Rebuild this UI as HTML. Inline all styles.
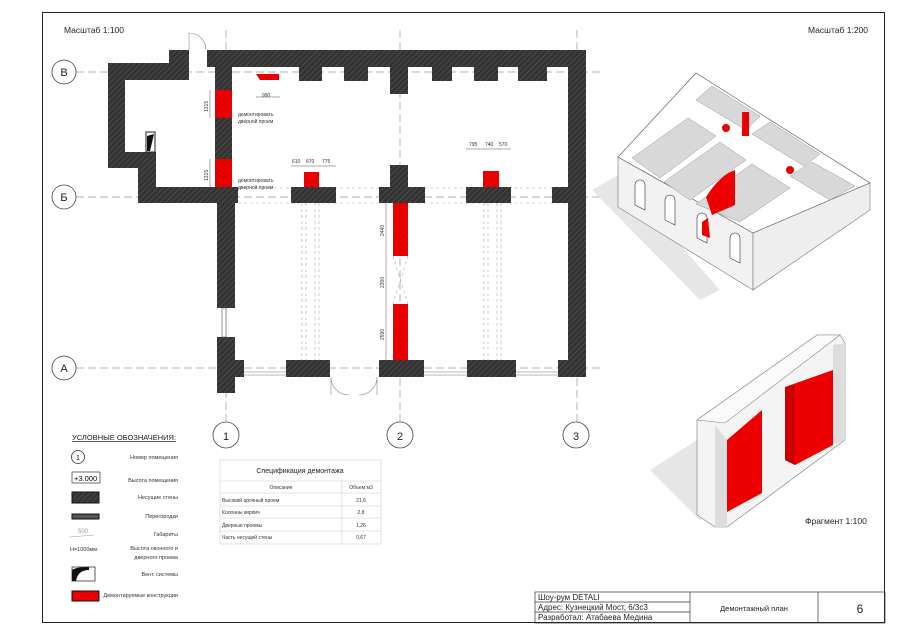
<!DOCTYPE html>
<html><head><meta charset="utf-8"><style>
html,body{margin:0;padding:0;background:#fff;}
svg{display:block;font-family:"Liberation Sans","DejaVu Sans",sans-serif;}
</style></head><body>
<svg width="900" height="635" viewBox="0 0 900 635" xmlns="http://www.w3.org/2000/svg">
<defs>
<pattern id="h" width="4" height="4" patternUnits="userSpaceOnUse" patternTransform="rotate(45)">
<rect width="4" height="4" fill="#333"/><line x1="0" y1="0" x2="0" y2="4" stroke="#6a6a6a" stroke-width="0.8"/></pattern>
<pattern id="r" width="4" height="4" patternUnits="userSpaceOnUse" patternTransform="rotate(45)">
<rect width="4" height="4" fill="#e00"/><line x1="0" y1="0" x2="0" y2="4" stroke="#b00" stroke-width="0.8"/></pattern>
</defs>
<rect x="42.5" y="12.5" width="842" height="610" fill="none" stroke="#222" stroke-width="1"/>
<text x="64" y="33" font-size="8.5" fill="#222">Масштаб 1:100</text>
<text x="808" y="33" font-size="8.5" fill="#222">Масштаб 1:200</text>

<g stroke="#999" stroke-width="0.7" stroke-dasharray="8,4" fill="none">
<line x1="76" y1="72" x2="600" y2="72"/>
<line x1="76" y1="197" x2="600" y2="197"/>
<line x1="76" y1="368" x2="600" y2="368"/>
<line x1="226" y1="30" x2="226" y2="422"/>
<line x1="400" y1="30" x2="400" y2="422"/>
<line x1="577" y1="30" x2="577" y2="422"/>
</g>
<g fill="#fff" stroke="#444" stroke-width="0.8">
<circle cx="64" cy="72" r="12"/><circle cx="64" cy="197" r="12"/><circle cx="64" cy="368" r="12"/>
<circle cx="226" cy="435" r="13"/><circle cx="400" cy="435" r="13"/><circle cx="576" cy="435" r="13"/>
</g>
<g font-size="11" fill="#222" text-anchor="middle">
<text x="64" y="76">В</text><text x="64" y="201">Б</text><text x="64" y="372">А</text>
<text x="226" y="440">1</text><text x="400" y="440">2</text><text x="576" y="440">3</text>
</g>

<g stroke="#aaa" stroke-width="0.6" stroke-dasharray="3,3" fill="none">
<line x1="238" y1="188" x2="568" y2="188"/><line x1="238" y1="203" x2="568" y2="203"/>
<line x1="302" y1="203" x2="302" y2="360"/><line x1="306" y1="203" x2="306" y2="360"/>
<line x1="315" y1="203" x2="315" y2="360"/><line x1="319" y1="203" x2="319" y2="360"/>
<line x1="484" y1="203" x2="484" y2="360"/><line x1="488" y1="203" x2="488" y2="360"/>
<line x1="497" y1="203" x2="497" y2="360"/><line x1="501" y1="203" x2="501" y2="360"/>
<line x1="393" y1="256" x2="408" y2="304"/><line x1="408" y1="256" x2="393" y2="304"/>
</g>

<g fill="url(#h)">
<rect x="207" y="50" width="379" height="17"/>
<rect x="169" y="50" width="20" height="15"/>
<rect x="108" y="63" width="81" height="17"/>
<rect x="108" y="63" width="17" height="105"/>
<rect x="108" y="152" width="48" height="16"/>
<rect x="138" y="152" width="18" height="51"/>
<rect x="138" y="187" width="100" height="16"/>
<rect x="215" y="67" width="17" height="120"/>
<rect x="217" y="203" width="18" height="105"/>
<rect x="217" y="337" width="18" height="56"/>
<rect x="568" y="50" width="18" height="327"/>
<rect x="299" y="67" width="23" height="14"/>
<rect x="344" y="67" width="24" height="14"/>
<rect x="390" y="67" width="18" height="27"/>
<rect x="432" y="67" width="20" height="14"/>
<rect x="474" y="67" width="24" height="14"/>
<rect x="518" y="67" width="29" height="14"/>
<rect x="291" y="187" width="45" height="16"/>
<rect x="379" y="187" width="46" height="16"/>
<rect x="390" y="165" width="18" height="22"/>
<rect x="466" y="187" width="45" height="16"/>
<rect x="552" y="187" width="17" height="16"/>
<rect x="235" y="360" width="9" height="17"/>
<rect x="286" y="360" width="44" height="17"/>
<rect x="379" y="360" width="45" height="17"/>
<rect x="467" y="360" width="49" height="17"/>
<rect x="558" y="360" width="28" height="17"/>
</g>
<rect x="222" y="308" width="4" height="29" fill="#fff" stroke="#555" stroke-width="0.6"/>
<g stroke="#777" stroke-width="0.6">
<line x1="244" y1="372" x2="286" y2="372"/><line x1="244" y1="375" x2="286" y2="375"/>
<line x1="424" y1="372" x2="467" y2="372"/><line x1="424" y1="375" x2="467" y2="375"/>
<line x1="516" y1="372" x2="558" y2="372"/><line x1="516" y1="375" x2="558" y2="375"/>
</g>
<g fill="none" stroke="#888" stroke-width="0.6">
<path d="M189 50 L189 33 A17 17 0 0 1 206 50"/>
<path d="M331 377 L331 395 M377 377 L377 395 M331 377 A18 18 0 0 0 349 395 M377 377 A18 18 0 0 1 359 395"/>
</g>
<rect x="146" y="132" width="9" height="20" fill="#fff" stroke="#222" stroke-width="1"/>
<path d="M147 151 L147 136 L154 134 L150 151Z" fill="#111"/>

<g fill="url(#r)">
<rect x="215" y="90" width="17" height="28"/>
<rect x="215" y="159" width="17" height="28"/>
<rect x="304" y="172" width="15" height="15"/>
<rect x="483" y="171" width="16" height="16"/>
<rect x="393" y="203" width="15" height="53"/>
<rect x="393" y="304" width="15" height="56"/>
<polygon points="256,74 279,74 279,80 260,80"/>
</g>
<g font-size="5" fill="#333">
<text x="238" y="116">демонтировать</text><text x="238" y="123">дверной проем</text>
<text x="238" y="182">демонтировать</text><text x="238" y="189">дверной проем</text>
<text x="262" y="97">990</text>
<text x="292" y="163">610</text><text x="306" y="163">670</text><text x="322" y="163">775</text>
<text x="469" y="146">795</text><text x="485" y="146">740</text><text x="499" y="146">570</text>
</g>
<g font-size="5" fill="#333">
<text transform="translate(208,112) rotate(-90)">1315</text>
<text transform="translate(208,181) rotate(-90)">1315</text>
<text transform="translate(384,236) rotate(-90)">2440</text>
<text transform="translate(384,288) rotate(-90)">2300</text>
<text transform="translate(384,340) rotate(-90)">2590</text>
</g>
<g stroke="#555" stroke-width="0.5">
<line x1="256" y1="97" x2="280" y2="97"/>
<line x1="291" y1="166" x2="336" y2="166"/>
<line x1="466" y1="149" x2="511" y2="149"/>
<line x1="210" y1="90" x2="210" y2="118"/><line x1="210" y1="159" x2="210" y2="187"/>
<line x1="386" y1="203" x2="386" y2="360"/>
</g>

<!-- isometric -->
<polygon points="592,190 618,175 720,290 700,300" fill="#e6e6e6"/>
<polygon points="618,157 753,233 753,290 618,207" fill="#f2f2f2" stroke="#777" stroke-width="0.6"/>
<polygon points="753,233 820,198 870,183 870,210 753,290" fill="#eee" stroke="#777" stroke-width="0.6"/>
<polygon points="618,157 696,73 870,183 753,233" fill="#fff" stroke="#666" stroke-width="0.7"/>
<g fill="#d8d8d8" stroke="#999" stroke-width="0.5">
<polygon points="632,158 688,118 716,136 660,178"/>
<polygon points="664,182 720,142 746,160 690,200"/>
<polygon points="696,204 752,164 790,188 740,222"/>
<polygon points="696,100 712,86 760,116 746,130"/>
<polygon points="752,134 770,122 820,154 804,166"/>
<polygon points="790,176 812,162 855,186 830,200"/>
</g>
<g fill="#fff" stroke="#333" stroke-width="0.6">
<path d="M635 205 v-20 a5 5 0 0 1 10 0 v25 z"/>
<path d="M665 220 v-20 a5 5 0 0 1 10 0 v25 z"/>
<path d="M697 238 v-20 a5 5 0 0 1 10 0 v25 z"/>
<path d="M730 258 v-20 a5 5 0 0 1 10 0 v25 z"/>
</g>
<g fill="#e00">
<path d="M706 197 Q720 175 735 170 L735 205 L712 215Z"/>
<rect x="742" y="112" width="7" height="24"/>
<circle cx="726" cy="128" r="4"/>
<circle cx="790" cy="170" r="4"/>
<path d="M702 222 L708 218 L710 238 L702 235Z"/>
</g>

<!-- fragment -->
<polygon points="650,470 697,440 745,500 700,520" fill="#e6e6e6"/>
<polygon points="697,420 817,335 840,335 845,343 845,440 727,527 715,527 697,515" fill="#f4f4f4" stroke="#777" stroke-width="0.6"/>
<polygon points="697,420 817,335 840,335 725,423" fill="#fafafa" stroke="#888" stroke-width="0.6"/>
<polygon points="715,425 727,440 727,527 715,527" fill="#ddd"/>
<polygon points="833,345 845,343 845,440 833,445" fill="#ddd"/>
<polygon points="727,440 762,410 762,493 727,512" fill="#e00"/>
<polygon points="785,387 833,370 833,445 795,465 785,460" fill="#e00"/>
<polygon points="785,387 795,385 795,465 785,460" fill="#c00"/>
<text x="805" y="524" font-size="8.5" fill="#222">Фрагмент 1:100</text>

<!-- legend -->
<text x="72" y="440" font-size="7.5" fill="#222" text-decoration="underline">УСЛОВНЫЕ ОБОЗНАЧЕНИЯ:</text>
<g font-size="5.5" fill="#333" text-anchor="end">
<text x="178" y="459">Номер помещения</text>
<text x="178" y="482">Высота помещения</text>
<text x="178" y="499">Несущие стены</text>
<text x="178" y="518">Перегородки</text>
<text x="178" y="536">Габариты</text>
<text x="178" y="550">Высота оконного и</text>
<text x="178" y="559">дверного проема</text>
<text x="178" y="576">Вент. системы</text>
<text x="178" y="597">Демонтируемые конструкции</text>
</g>
<circle cx="78" cy="457" r="6.5" fill="none" stroke="#333" stroke-width="0.8"/>
<text x="78" y="460" font-size="7" text-anchor="middle">1</text>
<rect x="72" y="472" width="28" height="11" fill="none" stroke="#333" stroke-width="0.7"/>
<text x="74" y="481" font-size="7.5">+3.000</text>
<rect x="72" y="492" width="27" height="11" fill="url(#h)" stroke="#111"/>
<rect x="72" y="514" width="27" height="5" fill="#555" stroke="#111"/>
<text x="78" y="533" font-size="6" fill="#999">500</text>
<line x1="70" y1="537" x2="94" y2="535" stroke="#999" stroke-width="0.5"/>
<text x="70" y="551" font-size="5.5" fill="#333">H=1000мм</text>
<rect x="72" y="567" width="23" height="14" fill="#fff" stroke="#333" stroke-width="0.8"/>
<path d="M72 581 L72 570 Q76 567 89 567 L89 570 Q78 570 76 581Z" fill="#111"/>
<rect x="72" y="591" width="27" height="10" fill="url(#r)" stroke="#111"/>

<!-- table -->
<g stroke="#ccc" stroke-width="0.6" fill="none">
<rect x="220" y="460" width="161" height="84"/>
<line x1="220" y1="481" x2="381" y2="481"/>
<line x1="220" y1="493" x2="381" y2="493"/>
<line x1="220" y1="506" x2="381" y2="506"/>
<line x1="220" y1="518" x2="381" y2="518"/>
<line x1="220" y1="531" x2="381" y2="531"/>
<line x1="342" y1="481" x2="342" y2="544"/>
</g>
<text x="300" y="473" font-size="7" text-anchor="middle" fill="#222">Спецификация демонтажа</text>
<g font-size="5" fill="#333">
<text x="281" y="489" text-anchor="middle">Описание</text>
<text x="361" y="489" text-anchor="middle">Объем м3</text>
<text x="222" y="502">Высокий арочный проем</text><text x="361" y="502" text-anchor="middle">21,6</text>
<text x="222" y="514">Колонны кирпич</text><text x="361" y="514" text-anchor="middle">2,8</text>
<text x="222" y="527">Дверные проемы</text><text x="361" y="527" text-anchor="middle">1,26</text>
<text x="222" y="539">Часть несущей стены</text><text x="361" y="539" text-anchor="middle">0,67</text>
</g>

<!-- title block -->
<g stroke="#333" stroke-width="0.7" fill="none">
<rect x="535" y="592" width="350" height="31"/>
<line x1="535" y1="602" x2="690" y2="602"/><line x1="535" y1="612" x2="690" y2="612"/>
<line x1="690" y1="592" x2="690" y2="623"/><line x1="818" y1="592" x2="818" y2="623"/>
</g>
<g font-size="8" fill="#222">
<text x="538" y="600">Шоу-рум DETALI</text>
<text x="538" y="610">Адрес:  Кузнецкий Мост, 6/3с3</text>
<text x="538" y="620">Разработал: Атабаева Медина</text>
<text x="754" y="611" text-anchor="middle" font-size="7.5">Демонтажный план</text>
<text x="860" y="613" text-anchor="middle" font-size="12">6</text>
</g>
</svg>
</body></html>
